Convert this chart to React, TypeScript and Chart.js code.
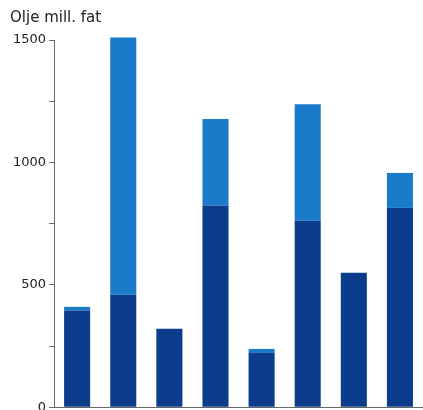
import React, { useEffect, useRef } from "react";
import { Chart, registerables } from "chart.js";

Chart.register(...registerables);

const categories = ["1", "2", "3", "4", "5", "6", "7", "8"];
const darkValues = [395, 459, 320, 824, 222, 762, 549, 814];
const lightValues = [15, 1051, 0, 353, 16, 476, 0, 143];
const yTickLabels = [0, 500, 1000, 1500];
const axisTitle = "Olje mill. fat";

export default function App() {
  const ref = useRef<HTMLCanvasElement | null>(null);
  useEffect(() => {
    if (!ref.current) return;
    const chart = new Chart(ref.current, {
      type: "bar",
      data: {
        labels: categories,
        datasets: [
          {
            label: "a",
            data: darkValues,
            backgroundColor: "#0c3c8c",
            barPercentage: 0.565,
            categoryPercentage: 1,
            clip: false,
          },
          {
            label: "b",
            data: lightValues,
            backgroundColor: "#1a7bcb",
            barPercentage: 0.565,
            categoryPercentage: 1,
            clip: false,
          },
        ],
      },
      options: {
        animation: false,
        responsive: true,
        maintainAspectRatio: false,
        layout: { padding: { left: 10, right: 0, top: 0, bottom: 3 } },
        plugins: {
          legend: { display: false },
          tooltip: { enabled: false },
          title: {
            display: true,
            text: axisTitle,
            align: "start",
            color: "#222",
            font: { family: "DejaVu Sans", size: 15, weight: "normal" },
            padding: { top: 9, bottom: 13 },
          },
        },
        scales: {
          x: {
            stacked: true,
            ticks: { display: false },
            grid: { display: false, drawTicks: false },
            border: { display: true, color: "#666", width: 1 },
          },
          y: {
            stacked: true,
            min: 0,
            max: 1500,
            ticks: {
              stepSize: 250,
              color: "#222",
              padding: 3,
              font: { family: "DejaVu Sans", size: 13 },
              callback: (v: any) => (yTickLabels.includes(Number(v)) ? String(v) : ""),
            },
            grid: {
              drawOnChartArea: false,
              drawTicks: true,
              tickLength: 5,
              color: "#666",
            },
            border: { display: true, color: "#666", width: 1 },
          },
        },
      },
    });
    return () => chart.destroy();
  }, []);
  return (
    <div style={{ position: "fixed", left: 0, top: 0, width: 423, height: 418, background: "#fff" }}>
      <canvas ref={ref} />
    </div>
  );
}
